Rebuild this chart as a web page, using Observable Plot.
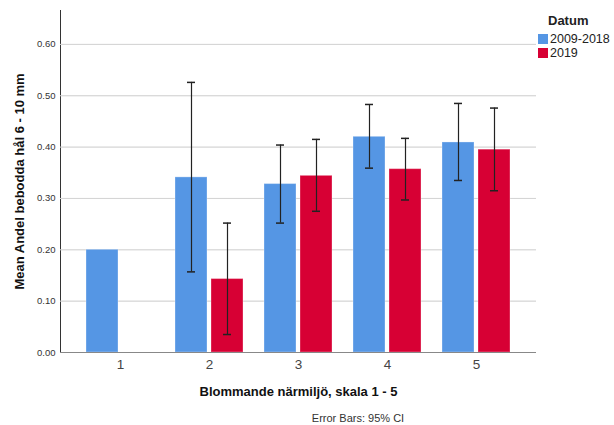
<!DOCTYPE html>
<html>
<head>
<meta charset="utf-8">
<script src="https://cdn.jsdelivr.net/npm/d3@7"></script>
<script src="https://cdn.jsdelivr.net/npm/@observablehq/plot@0.6"></script>
<style>
  html, body { margin: 0; padding: 0; background: #fff; }
  #wrap { position: relative; width: 614px; height: 425px; font-family: "Liberation Sans", Arial, sans-serif; }
  #legend { position: absolute; left: 538px; top: 13px; font-size: 12.5px; color: #222; }
  #legend .title { font-weight: bold; font-size: 13px; margin-left: 10px; margin-bottom: 4px; }
  #legend .row { display: flex; align-items: center; height: 14px; }
  #legend .sw { width: 10px; height: 10px; margin-right: 2px; }
</style>
</head>
<body>
<div id="wrap"></div>
<script>
const categories = [1, 2, 3, 4, 5];
const series = ["2009-2018", "2019"];
const colors = ["#5596e4", "#d70034"];
// series 2009-2018
const meanA = [0.200, 0.341, 0.328, 0.420, 0.409];
const lowA  = [null, 0.157, 0.252, 0.359, 0.335];
const highA = [null, 0.526, 0.404, 0.483, 0.485];
// series 2019
const meanB = [null, 0.143, 0.344, 0.357, 0.395];
const lowB  = [null, 0.035, 0.275, 0.297, 0.315];
const highB = [null, 0.252, 0.415, 0.417, 0.476];
const yTicks = [0, 0.1, 0.2, 0.3, 0.4, 0.5, 0.6];
const yLabel = "Mean Andel bebodda hål 6 - 10 mm";
const xLabel = "Blommande närmiljö, skala 1 - 5";
const caption = "Error Bars: 95% CI";

function rowsFor(s, mean, low, high) {
  return categories.map((c, i) => ({cat: c, series: s, mean: mean[i], low: low[i], high: high[i]}))
    .filter(d => d.mean != null);
}
const rowsA = rowsFor(series[0], meanA, lowA, highA);
const rowsB = rowsFor(series[1], meanB, lowB, highB);
const ciA = rowsA.filter(d => d.low != null);
const ciB = rowsB.filter(d => d.low != null);

const off = 18;
function seriesMarks(rows, ci, dx) {
  return [
    Plot.barY(rows, {x: "cat", y: "mean", fill: "series", dx, insetLeft: 13, insetRight: 13,
      stroke: "white", strokeOpacity: 0.3, strokeWidth: 1}),
    Plot.ruleX(ci, {x: "cat", y1: "low", y2: "high", dx, stroke: "#222", strokeWidth: 1.2}),
    Plot.tickY(ci, {x: "cat", y: "high", dx, insetLeft: 25, insetRight: 25, stroke: "#222", strokeWidth: 1.5}),
    Plot.tickY(ci, {x: "cat", y: "low", dx, insetLeft: 25, insetRight: 25, stroke: "#222", strokeWidth: 1.5})
  ];
}

const chart = Plot.plot({
  width: 614,
  height: 425,
  marginLeft: 60,
  marginRight: 78,
  marginTop: 10,
  marginBottom: 73,
  style: {fontFamily: "'Liberation Sans', Arial, sans-serif", color: "#333", background: "white"},
  x: {type: "band", domain: categories, paddingInner: 0.348, paddingOuter: 0.348, label: null,
      tickSize: 0, tickPadding: 7, fontSize: 13.5},
  y: {domain: [0, 0.666], ticks: yTicks, tickFormat: ".2f", grid: true, label: null,
      tickSize: 0, tickPadding: 5, line: true},
  color: {domain: series, range: colors},
  marks: [
    Plot.ruleY(yTicks.slice(1), {stroke: "#d4d4d4", strokeWidth: 1}),
    ...seriesMarks(rowsA, ciA, -off),
    ...seriesMarks(rowsB, ciB, off),
    Plot.ruleY([0], {stroke: "#888", strokeWidth: 1}),
    Plot.text([yLabel], {text: d => d, frameAnchor: "left", textAnchor: "middle", lineAnchor: "middle",
      rotate: -90, dx: -41, fontSize: 13, fontWeight: "bold", fill: "#111"}),
    Plot.text([xLabel], {text: d => d, frameAnchor: "bottom", textAnchor: "middle", lineAnchor: "middle",
      dy: 39.5, fontSize: 13, fontWeight: "bold", fill: "#111"}),
    Plot.text([caption], {text: d => d, frameAnchor: "bottom", textAnchor: "middle", lineAnchor: "middle",
      dx: 59.5, dy: 66, fontSize: 11, fill: "#333"})
  ]
});

const wrap = document.getElementById("wrap");
wrap.appendChild(chart);
d3.select(chart).selectAll("[aria-label='y-axis'] text, [aria-label='y-axis tick label'] text").attr("font-size", 9.5);
d3.select(chart).selectAll("[aria-label='x-axis'] text, [aria-label='x-axis tick label'] text").attr("font-size", 13.5).attr("fill", "#444");

const legend = document.createElement("div");
legend.id = "legend";
legend.innerHTML = `<div class="title">Datum</div>` +
  series.map((s, i) => `<div class="row"><div class="sw" style="background:${colors[i]}"></div><span>${s}</span></div>`).join("");
wrap.appendChild(legend);
</script>
</body>
</html>
